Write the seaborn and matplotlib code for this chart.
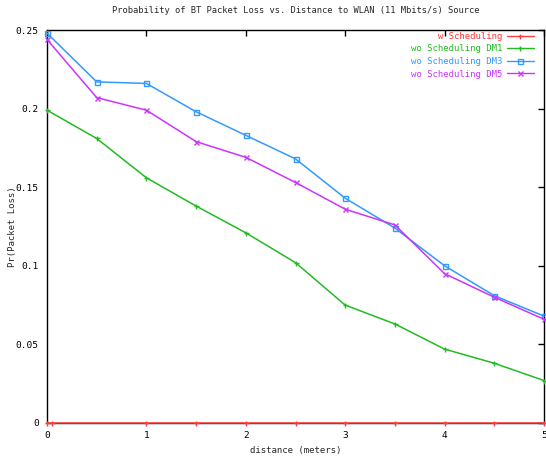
import matplotlib
matplotlib.use("Agg")
import matplotlib.pyplot as plt
import seaborn as sns
import pandas as pd
from matplotlib.lines import Line2D

# Data
x_main = [0, 0.5, 1, 1.5, 2, 2.5, 3, 3.5, 4, 4.5, 5]
x_sched = [0, 0.05, 1, 1.5, 2, 2.5, 3, 3.5, 4, 4.5, 5]
w_sched = [0, 0, 0, 0, 0, 0, 0, 0, 0, 0, 0]
wo_dm1 = [0.199, 0.181, 0.156, 0.138, 0.121, 0.102, 0.075, 0.063, 0.047, 0.038, 0.027]
wo_dm3 = [0.248, 0.217, 0.216, 0.198, 0.183, 0.168, 0.143, 0.124, 0.100, 0.081, 0.068]
wo_dm5 = [0.244, 0.207, 0.199, 0.179, 0.169, 0.153, 0.136, 0.126, 0.095, 0.080, 0.066]
labels = ["w Scheduling", "wo Scheduling DM1", "wo Scheduling DM3", "wo Scheduling DM5"]
x_ticks = [0, 1, 2, 3, 4, 5]
y_ticks = [0, 0.05, 0.1, 0.15, 0.2, 0.25]
y_tick_labels = ["0", "0.05", "0.1", "0.15", "0.2", "0.25"]

series = [
    pd.DataFrame({"x": x_sched, "y": w_sched}),
    pd.DataFrame({"x": x_main, "y": wo_dm1}),
    pd.DataFrame({"x": x_main, "y": wo_dm3}),
    pd.DataFrame({"x": x_main, "y": wo_dm5}),
]

sns.set_theme(style="white")
plt.rcParams["font.family"] = ["DejaVu Sans Mono"]

colors = ["#ff3b3b", "#22bb22", "#3399ff", "#cc33ff"]
markers = ["+", "+", "s", "x"]
FS = 6.5

fig = plt.figure(figsize=(5.46, 4.63), dpi=100)
ax = fig.add_axes([47/546, 40/463, 497/546, 393/463])

for d, c, m in zip(series, colors, markers):
    sns.lineplot(data=d, x="x", y="y", color=c, marker=m, markersize=3.6,
                 linewidth=1.1, markerfacecolor="none", markeredgecolor=c,
                 markeredgewidth=1.0, ax=ax, legend=False, sort=False,
                 clip_on=False, zorder=3)

ax.set_xlim(0, 5)
ax.set_ylim(0, 0.25)
ax.set_xticks(x_ticks)
ax.set_xticklabels([str(t) for t in x_ticks])
ax.set_yticks(y_ticks)
ax.set_yticklabels(y_tick_labels)
ax.tick_params(direction="in", length=4, width=1, top=True, right=True,
               labelsize=FS + 0.3, colors="black", pad=6)
for s in ax.spines.values():
    s.set_color("black")
    s.set_linewidth(1.0)

ax.set_xlabel("distance (meters)", fontsize=FS, labelpad=4)
ax.set_ylabel("Pr(Packet Loss)", fontsize=FS)
ax.yaxis.set_label_coords(-0.061, 0.5)
ax.set_title("Probability of BT Packet Loss vs. Distance to WLAN (11 Mbits/s) Source",
             fontsize=FS - 0.2, pad=12)

maxlen = max(len(l) for l in labels)
handles = [Line2D([], [], color=colors[i], marker=markers[i], markersize=3.6,
                  markerfacecolor="none", linewidth=1.0)
           for i in range(len(labels))]
leg = ax.legend(handles, [l.rjust(maxlen) for l in labels], loc="upper right",
                bbox_to_anchor=(0.9835, 1.0),
                markerfirst=False, frameon=False, fontsize=FS, labelcolor="linecolor",
                handlelength=3.0, handletextpad=0.45, labelspacing=0.4,
                borderaxespad=0.0, borderpad=0.2)

fig.savefig("out.png", dpi=100)
